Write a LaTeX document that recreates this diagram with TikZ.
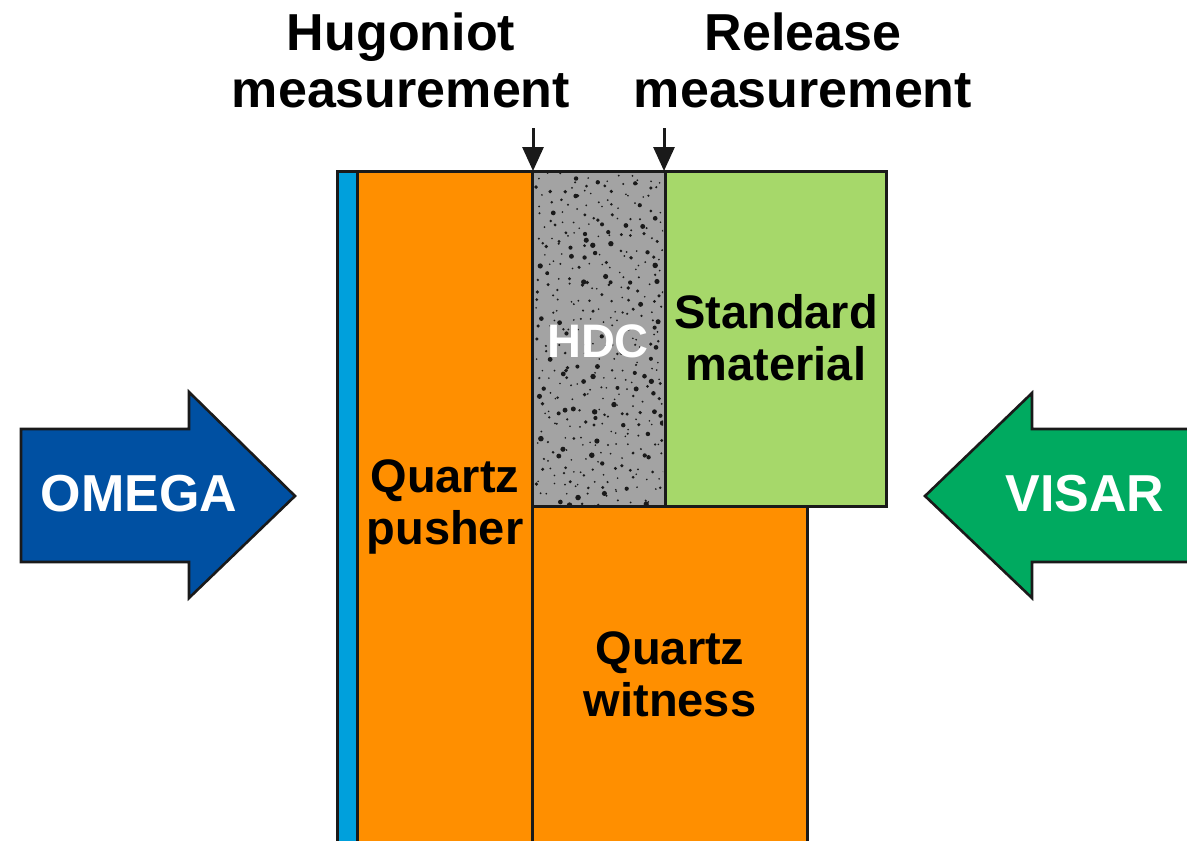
\documentclass[tikz,border=0pt]{standalone}
\usepackage{fontspec}
\setmainfont{Liberation Sans}
\usetikzlibrary{arrows.meta}
\definecolor{stripblue}{HTML}{00A0DC}
\definecolor{qorange}{HTML}{FF8F00}
\definecolor{hdcgray}{HTML}{A3A3A3}
\definecolor{stdgreen}{HTML}{A6D86A}
\definecolor{omegablue}{HTML}{0050A2}
\definecolor{visargreen}{HTML}{00AA60}
\definecolor{ink}{HTML}{1A1A1A}
\begin{document}
\begin{tikzpicture}[x=0.5pt,y=-0.5pt,
  edge/.style={draw=ink,line width=1.5pt,line join=miter},
  head/.style={font=\bfseries\fontsize{26}{28.5}\selectfont,align=center,text=black,inner sep=0pt},
  lab/.style={font=\bfseries\fontsize{23.5}{26}\selectfont,align=center,inner sep=0pt},
  bigarrowtext/.style={font=\bfseries\fontsize{26}{28}\selectfont,text=white,inner sep=0pt},
  probe/.style={draw=ink,line width=1.5pt,-{Triangle[length=12pt,width=10.5pt]}}]
\useasboundingbox (0,0) rectangle (1187,840);
\clip (0,0) rectangle (1187,840);
% corners
\coordinate (hugtop) at (533,171);
\coordinate (reltop) at (664,171);
\coordinate (hugstart) at (533,128);
\coordinate (relstart) at (664,128);
% layers
\path[edge,fill=stripblue] (337,171) rectangle (357,860);
\path[edge,fill=qorange] (357,171) rectangle (532,860);
\path[edge,fill=qorange] (532,506) rectangle (807,860);
\path[edge,fill=stdgreen] (665,171) rectangle (886,506);
\path[fill=hdcgray] (532,171) rectangle (665,506);
\begin{scope}
\clip (534,173) rectangle (663,504);
\pgfmathsetseed{4242}
\foreach \gx in {0,...,12}{
  \foreach \gy in {0,...,33}{
    \pgfmathsetmacro\xx{536+10*\gx+10*rnd}
    \pgfmathsetmacro\yy{173+10*\gy+10*rnd}
    \pgfmathsetmacro\rr{0.9+1.9*rnd^3}
    \fill[ink] (\xx,\yy) circle[radius=\rr];
  }
}
\end{scope}
\path[edge] (532,171) rectangle (665,506);
% labels in layers
\node[lab] (pusher) at (445,507) {Quartz\\pusher};
\node[lab,text=white] (hdc) at (598,341) {HDC};
\node[lab] (standard) at (776,338) {Standard\\material};
\node[lab] (witness) at (670,674) {Quartz\\witness};
% headings
\node[head] (hug) at (401,60) {Hugoniot\\measurement};
\node[head] (rel) at (803,60) {Release\\measurement};
\draw[probe] (hugstart) -- (hugtop);
\draw[probe] (relstart) -- (reltop);
% OMEGA arrow
\path[draw=ink,line width=1.3pt,fill=omegablue,line join=miter]
  (21,429) -- (189,429) -- (189,392) -- (295,496) -- (189,598) -- (189,562) -- (21,562) -- cycle;
\node[bigarrowtext] (omega) at (139,494) {OMEGA};
% VISAR arrow
\path[draw=ink,line width=1.3pt,fill=visargreen,line join=miter]
  (1200,429) -- (1032,429) -- (1032,393) -- (925,496) -- (1032,598) -- (1032,562) -- (1200,562);
\node[bigarrowtext] (visar) at (1085,494) {VISAR};
\end{tikzpicture}
\end{document}
